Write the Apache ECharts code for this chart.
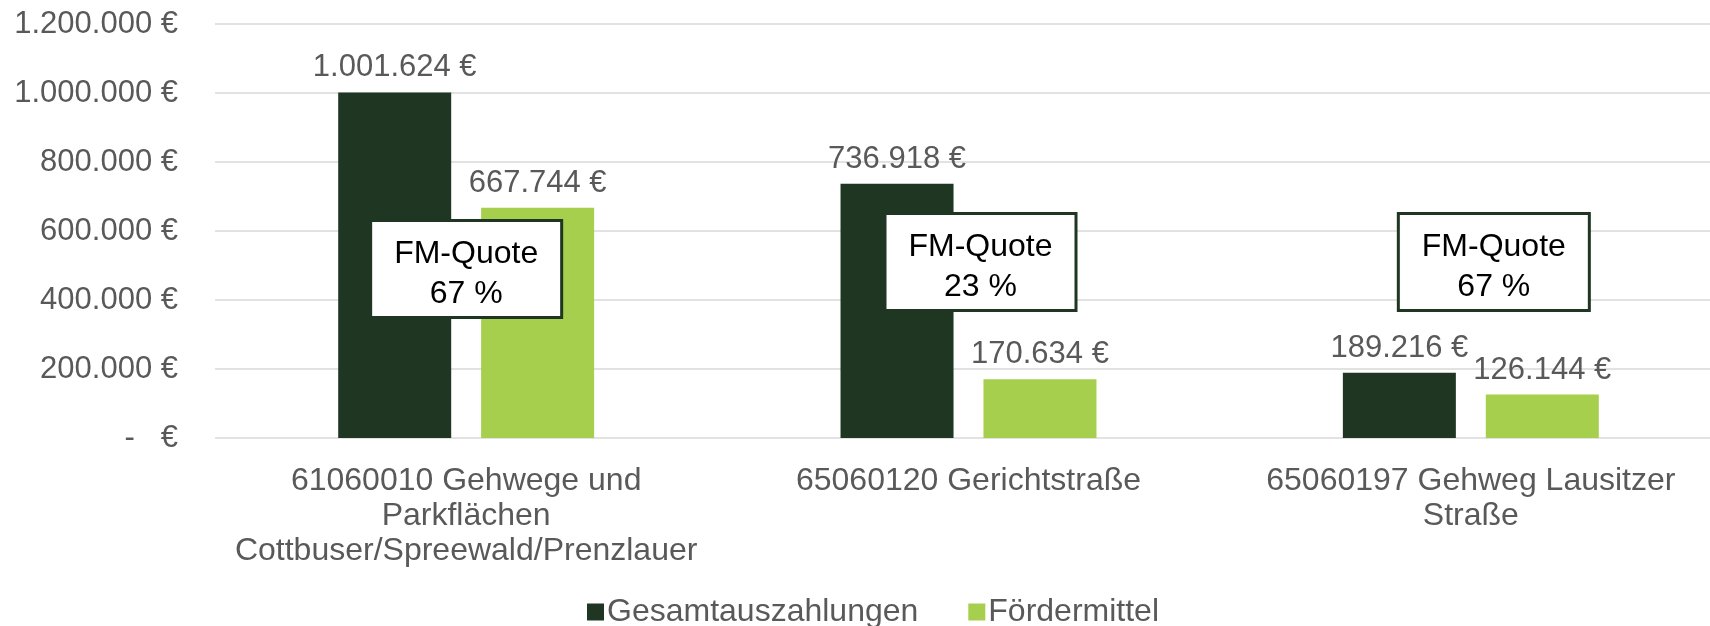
<!DOCTYPE html>
<html>
<head>
<meta charset="utf-8">
<script src="https://cdn.jsdelivr.net/npm/echarts@6/dist/echarts.min.js"></script>
<style>
  html, body { margin: 0; padding: 0; background: #fff; overflow: hidden; }
  /* etwas breiter als das Fenster: die Gitterlinien laufen im Original über den Rand */
  #chart { width: 1722px; height: 626px; }
</style>
</head>
<body>
<div id="chart"></div>
<script>
// Daten
const categories = [
  "61060010 Gehwege und\nParkflächen\nCottbuser/Spreewald/Prenzlauer",
  "65060120 Gerichtstraße",
  "65060197 Gehweg Lausitzer\nStraße"
];
const gesamtauszahlungen = [1001624, 736918, 189216];
const foerdermittel = [667744, 170634, 126144];
const fmQuoten = ["67 %", "23 %", "67 %"];
const yTicks = [0, 200000, 400000, 600000, 800000, 1000000, 1200000];

// Lage der FM-Quote Kästen (Versatz in px zur Kategoriemitte, Höhe als Achsenwert)
const boxOffsetX = [0, 12, 23];
const boxValueY = [490000, 510000, 510000];

const FONT = "'Liberation Sans', Arial, sans-serif";
const GRAY = "#595959";

// 1234567 -> "1.234.567"
function fmt(v) {
  return String(Math.round(v)).replace(/\B(?=(\d{3})+(?!\d))/g, ".");
}

const chart = echarts.init(document.getElementById("chart"));

const option = {
  animation: false,
  textStyle: { fontFamily: FONT },
  color: ["#1f3622", "#a5cf4c"],
  grid: { left: 215, top: 24, right: 0, height: 414, containLabel: false },
  legend: {
    left: 587,
    top: 596,
    padding: 0,
    icon: "rect",
    itemWidth: 17,
    itemHeight: 17,
    itemGap: 50,
    textStyle: { fontSize: 32, color: GRAY, fontFamily: FONT, padding: [0, 0, 0, -2] },
    data: ["Gesamtauszahlungen", "Fördermittel"]
  },
  xAxis: {
    type: "category",
    data: categories,
    axisLine: { show: false },
    axisTick: { show: false },
    axisLabel: {
      interval: 0,
      margin: 26,
      fontSize: 32,
      lineHeight: 35,
      color: GRAY,
      fontFamily: FONT,
      align: "center"
    }
  },
  yAxis: {
    type: "value",
    min: yTicks[0],
    max: yTicks[yTicks.length - 1],
    interval: yTicks[1] - yTicks[0],
    axisLine: { show: false },
    axisTick: { show: false },
    splitLine: { lineStyle: { color: "#d9d9d9", width: 1.5 } },
    axisLabel: {
      margin: 37,
      fontSize: 31,
      color: GRAY,
      fontFamily: FONT,
      formatter: v => (v === 0 ? "-   €" : fmt(v) + " €")
    }
  },
  series: [
    {
      name: "Gesamtauszahlungen",
      type: "bar",
      data: gesamtauszahlungen,
      barWidth: 113,
      barGap: "26.5%",
      label: {
        show: true,
        position: "top",
        distance: 9,
        fontSize: 31,
        color: GRAY,
        fontFamily: FONT,
        formatter: p => fmt(p.value) + " €"
      }
    },
    {
      name: "Fördermittel",
      type: "bar",
      data: foerdermittel,
      barWidth: 113,
      label: {
        show: true,
        position: "top",
        distance: 9,
        fontSize: 31,
        color: GRAY,
        fontFamily: FONT,
        formatter: p => fmt(p.value) + " €"
      }
    }
  ]
};

chart.setOption(option);

// FM-Quote Kästen
const boxW = 191, boxH = 97;
const boxes = fmQuoten.map((q, i) => {
  const [cx, cy] = chart.convertToPixel({ gridIndex: 0 }, [i, boxValueY[i]]);
  const x = cx + boxOffsetX[i];
  return {
    type: "group",
    x: x - boxW / 2,
    y: cy - boxH / 2,
    children: [
      {
        type: "rect",
        z: 100,
        shape: { x: 0, y: 0, width: boxW, height: boxH },
        style: { fill: "#fff", stroke: "#1f3622", lineWidth: 3 }
      },
      {
        type: "text",
        z: 101,
        x: boxW / 2,
        y: boxH / 2 + 5,
        style: {
          text: "FM-Quote\n" + q,
          fill: "#000",
          font: "32px " + FONT,
          lineHeight: 40,
          align: "center",
          verticalAlign: "middle"
        }
      }
    ]
  };
});
chart.setOption({ graphic: boxes });
</script>
</body>
</html>
